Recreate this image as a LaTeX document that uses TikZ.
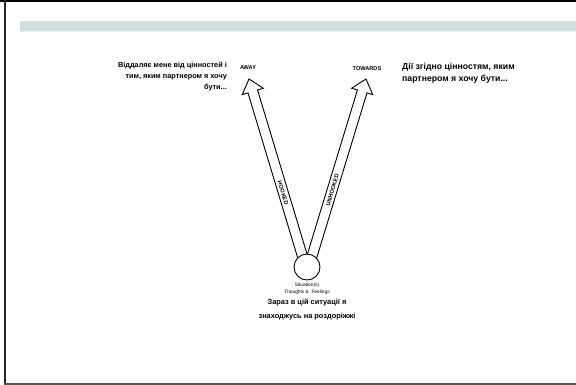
\documentclass[tikz,border=0pt]{standalone}
\usepackage{fontspec}
\setmainfont{Liberation Sans}
\usetikzlibrary{calc,backgrounds}
\definecolor{bandgray}{HTML}{D3E0E0}
\definecolor{bandedge}{HTML}{E8F0F0}
\definecolor{framegray}{HTML}{555555}
\begin{document}
\begin{tikzpicture}[x=1pt, y=-1pt,
  arrowline/.style={draw=black, fill=white, line width=0.9pt, line join=miter},
  shaftlabel/.style={font=\fontsize{5.6}{6}\selectfont\bfseries, inner sep=0pt},
  sidetext/.style={font=\bfseries, inner sep=0pt}]
  \useasboundingbox (0,0) rectangle (576,385);

  % -- Frame --
  \fill[black] (0,0) rectangle (576,2);
  \fill[black!85] (4,0) rectangle (6,384);
  \fill[framegray] (4,382.5) rectangle (576,384.5);

  % -- Title band --
  \fill[bandgray] (20,21) rectangle (576,31);
  \fill[bandedge] (20,31) rectangle (576,32);

  % -- Situation circle --
  \node[draw, fill=white, circle, line width=0.9pt, minimum size=26pt, inner sep=0pt] (sit) at (307,267) {};
  \node[font=\fontsize{4.8}{7}\selectfont, align=center, inner sep=0pt] (sitlabel) at (307,288.5) {Situation(s)\\Thoughts \&\ \ Feelings};

  % -- Arrow ends --
  \coordinate (hookbase) at ($(sit.center)+(-1.3,0)$);
  \coordinate (unhookbase) at ($(sit.center)+(1.7,0)$);
  \coordinate (awaytip) at (249,79);
  \coordinate (towardstip) at (366,79);
  \coordinate (hookneck) at ($(awaytip)!13pt!(hookbase)$);
  \coordinate (unhookneck) at ($(towardstip)!13pt!(unhookbase)$);

  \begin{pgfonlayer}{background}
    % Away arrow (hooked)
    \draw[arrowline] ($(hookbase)!5pt!90:(awaytip)$) -- ($(hookneck)!5pt!90:(awaytip)$)
      -- ($(hookneck)!11pt!90:(awaytip)$) -- (awaytip) -- ($(hookneck)!11pt!-90:(awaytip)$)
      -- ($(hookneck)!5pt!-90:(awaytip)$) -- ($(hookbase)!5pt!-90:(awaytip)$) -- cycle;
    % Towards arrow (unhooked)
    \draw[arrowline] ($(unhookbase)!5pt!90:(towardstip)$) -- ($(unhookneck)!5pt!90:(towardstip)$)
      -- ($(unhookneck)!11pt!90:(towardstip)$) -- (towardstip) -- ($(unhookneck)!11pt!-90:(towardstip)$)
      -- ($(unhookneck)!5pt!-90:(towardstip)$) -- ($(unhookbase)!5pt!-90:(towardstip)$) -- cycle;
  \end{pgfonlayer}

  % -- Shaft labels --
  \node[shaftlabel, rotate=-73.2] (hooked) at (283,193) {HOOKED};
  \node[shaftlabel, rotate=73.1] (unhooked) at (332.5,190) {UNHOOKED};

  % -- Direction labels --
  \node[shaftlabel] (away) at (248,68) {AWAY};
  \node[shaftlabel] (towards) at (367,69) {TOWARDS};

  % -- Side texts --
  \node[sidetext, anchor=east, align=right, font=\fontsize{7.3}{11}\selectfont\bfseries] (awaytext) at (227,77)
    {Віддаляє мене від цінностей і\\тим, яким партнером я хочу\\бути...};
  \node[sidetext, anchor=west, align=left, font=\fontsize{8.7}{12}\selectfont\bfseries] (towardstext) at (402,73)
    {Дії згідно цінностям, яким\\партнером я хочу бути...};
  \node[sidetext, align=center, font=\fontsize{7.4}{14}\selectfont\bfseries] (nowtext) at (307,310)
    {Зараз в цій ситуації я\\знаходжусь на роздоріжжі};

\end{tikzpicture}
\end{document}
